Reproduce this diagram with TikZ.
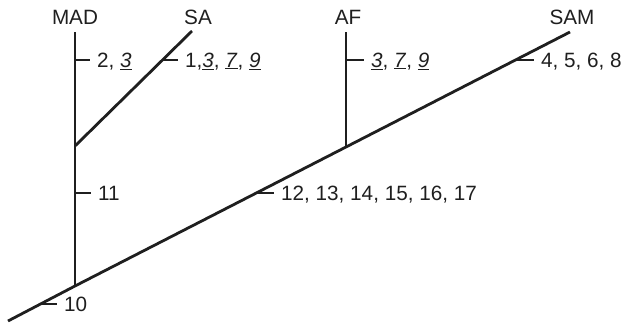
\documentclass[tikz,border=0pt]{standalone}
\usepackage{fontspec}
\setmainfont{Liberation Sans}
\usetikzlibrary{positioning}
\newcommand{\shared}[1]{\underline{\textit{#1}}}

\begin{document}
\begin{tikzpicture}[
    x=1pt, y=-1pt,
    branch/.style={line width=2.8pt, black!88},
    tick/.style={line width=1.4pt, black!88, shorten >=6pt},
    taxon/.style={font=\fontsize{20.7}{22}\selectfont, text=black!88, inner sep=0pt},
    change/.style={font=\fontsize{20.7}{22}\selectfont, text=black!88, anchor=west, text height=14.5pt, text depth=0pt, inner sep=1pt}
]
    \useasboundingbox (0,0) rectangle (627,322);

    % Tree
    \coordinate (base) at (8,321);
    \coordinate (root) at (75,286);
    \coordinate (madjoin) at (75,146);
    \coordinate (afjoin) at (346,147);
    \coordinate (madtip) at (75,32);
    \coordinate (satip) at (192,31);
    \coordinate (aftip) at (346,32);
    \coordinate (samtip) at (570,32);
    \draw[branch] (base) -- (root) -- (afjoin) -- (samtip);
    \draw[branch] (root) -- (madjoin) -- (madtip);
    \draw[branch] (madjoin) -- (satip);
    \draw[branch] (afjoin) -- (aftip);

    % Taxa
    \node[taxon] (mad) at (75,17) {MAD};
    \node[taxon] (sa) at (198,17) {SA};
    \node[taxon] (af) at (348,17) {AF};
    \node[taxon] (sam) at (572,17) {SAM};

    % Character changes
    \coordinate (t1) at (75,60);
    \coordinate (t2) at (162,60);
    \coordinate (t3) at (346,60);
    \coordinate (t4) at (515,60);
    \coordinate (t5) at (75,193);
    \coordinate (t6) at (256,193);
    \coordinate (t7) at (41,304);
    \node[change] (c1) at (96,60) {2, \shared{3}};
    \node[change] (c2) at (184,60) {1,\shared{3}, \shared{7}, \shared{9}};
    \node[change] (c3) at (370,60) {\shared{3}, \shared{7}, \shared{9}};
    \node[change] (c4) at (540,60) {4, 5, 6, 8};
    \node[change] (c5) at (97,193) {11};
    \node[change] (c6) at (280,193) {12, 13, 14, 15, 16, 17};
    \node[change] (c7) at (63,304) {10};
    \foreach \i in {1,...,7}
        \draw[tick] (t\i) -- (c\i.west);
\end{tikzpicture}
\end{document}
